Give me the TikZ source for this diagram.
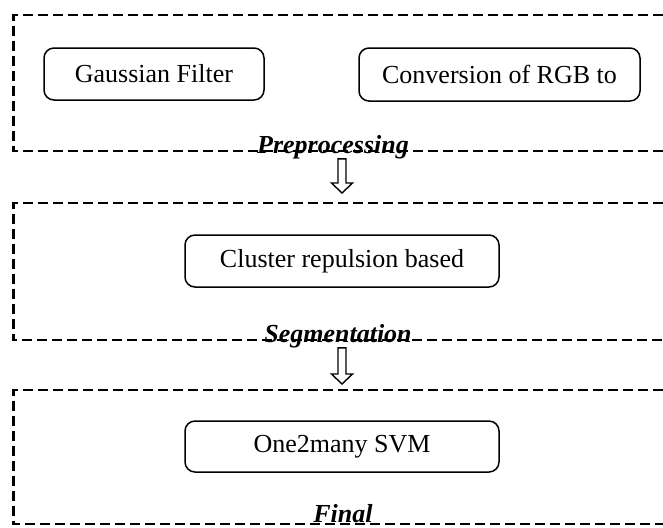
\documentclass[tikz,border=0pt]{standalone}
\usepackage{fontspec}
\setmainfont{Liberation Serif}
\usetikzlibrary{calc, positioning}
\tikzset{
  % dashed stage frames, rounded step boxes and the hollow down arrows
  stageframe/.style = {line width=1.1pt, dash pattern=on 5pt off 2.5pt},
  stepbox/.style    = {draw, rounded corners=5pt, line width=0.75pt,
                       font=\fontsize{13}{15}\selectfont, inner sep=0pt},
  stagelbl/.style   = {font=\fontsize{13}{15}\selectfont\bfseries\itshape,
                       inner sep=0pt, anchor=base},
  hollowarrow/.style = {line width=0.7pt, line join=miter, to path={
      let \p1=(\tikztostart), \p2=(\tikztotarget) in
      (\x1-2pt,\y1) -- (\x1+2pt,\y1) -- (\x1+2pt,\y2+5pt) -- (\x1+5.25pt,\y2+5pt)
      -- (\x2,\y2) -- (\x1-5.25pt,\y2+5pt) -- (\x1-2pt,\y2+5pt) -- cycle}},
}
\begin{document}
\begin{tikzpicture}[x=0.5pt, y=-0.5pt]
  \useasboundingbox (0,0) rectangle (663,527);
  % preprocessing stage
  \draw[stageframe] (663,15) -- (13.5,15) -- (13.5,151) -- (663,151);
  \node[stepbox, minimum width=110pt, minimum height=26pt] (gauss) at (154,74) {Gaussian Filter};
  \node[stepbox, minimum width=140.5pt, minimum height=26.5pt] (rgb) at (499.5,74.5) {Conversion of RGB to};
  \node[stagelbl] (prep) at (333,153) {Preprocessing};
  % segmentation stage
  \draw[stageframe] (663,203) -- (13.5,203) -- (13.5,340) -- (663,340);
  \node[stepbox, minimum width=157pt, minimum height=26pt] (cluster) at (342,261) {Cluster repulsion based};
  \node[stagelbl] (seg) at (338,342) {Segmentation};
  % final stage
  \draw[stageframe] (663,390) -- (13.5,390) -- (13.5,524) -- (663,524);
  \node[stepbox, minimum width=157pt, minimum height=25.5pt] (svm) at (342,446.5) {One2many SVM};
  \node[stagelbl] (fin) at (343,522) {Final};
  % arrows between the stages
  \coordinate (segin) at (342,193);
  \coordinate (finin) at (342,384);
  \draw[hollowarrow] (cluster.north |- prep.south) to (segin);
  \draw[hollowarrow] (svm.north |- seg.south) to (finin);
\end{tikzpicture}
\end{document}
